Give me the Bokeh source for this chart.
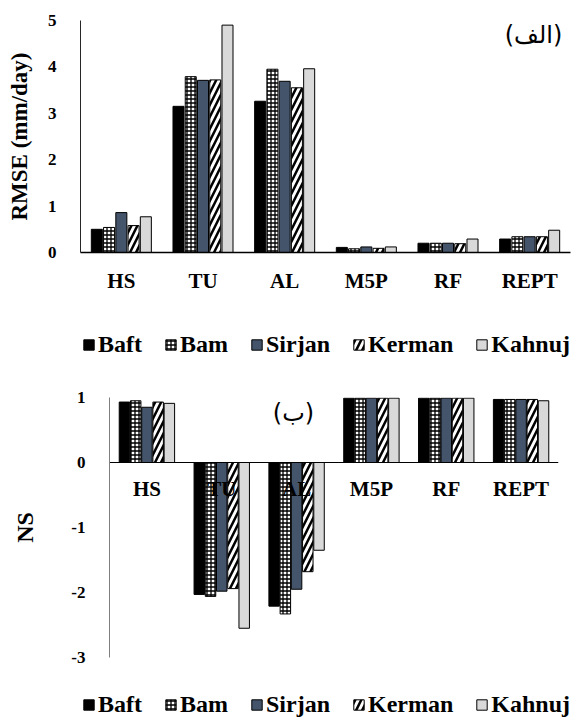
from bokeh.plotting import figure
from bokeh.models import ColumnDataSource, Range1d, Legend, LegendItem, Label, FixedTicker
from bokeh.transform import dodge
from bokeh.embed import file_html
from bokeh.resources import INLINE

models = ["HS", "TU", "AL", "M5P", "RF", "REPT"]
stations = ["Baft", "Bam", "Sirjan", "Kerman", "Kahnuj"]

rmse_baft = [0.50, 3.15, 3.26, 0.11, 0.20, 0.29]
rmse_bam = [0.54, 3.79, 3.95, 0.08, 0.20, 0.34]
rmse_sirjan = [0.86, 3.71, 3.69, 0.12, 0.20, 0.34]
rmse_kerman = [0.58, 3.72, 3.55, 0.09, 0.19, 0.34]
rmse_kahnuj = [0.77, 4.90, 3.96, 0.12, 0.29, 0.48]

ns_baft = [0.93, -2.03, -2.21, 0.99, 0.99, 0.97]
ns_bam = [0.95, -2.06, -2.33, 0.99, 0.99, 0.97]
ns_sirjan = [0.85, -1.98, -1.95, 0.99, 0.99, 0.97]
ns_kerman = [0.93, -1.94, -1.68, 0.99, 0.99, 0.97]
ns_kahnuj = [0.91, -2.55, -1.35, 0.99, 0.99, 0.95]

rmse_ticks = [0, 1, 2, 3, 4, 5]
ns_ticks = [-3, -2, -1, 0, 1]

SERIF = "Liberation Serif"
offsets = [-0.3, -0.15, 0.0, 0.15, 0.3]
styles = {
    "Baft": dict(fill_color="black"),
    "Bam": dict(fill_color="white", hatch_pattern="+", hatch_color="black", hatch_scale=4, hatch_weight=1.3),
    "Sirjan": dict(fill_color="#44546A"),
    "Kerman": dict(fill_color="white", hatch_pattern="/", hatch_color="black", hatch_scale=12, hatch_weight=2.5),
    "Kahnuj": dict(fill_color="#D9D9D9"),
}


def make_fig(data, y0, y1, ticks, ylabel, height, bl, br, bt, bb, bar_w,
             lab_text, lab_xy, zero_axis, label_standoff,
             title_standoff, title_size, yline_color):
    src = ColumnDataSource(dict(model=models, **data))
    p = figure(x_range=models, y_range=Range1d(y0, y1), width=576, height=height,
               output_backend="svg", toolbar_location=None,
               min_border_left=bl, min_border_right=br, min_border_top=bt, min_border_bottom=bb)
    p.xgrid.visible = False
    p.ygrid.visible = False
    p.outline_line_color = None
    for st, off in zip(stations, offsets):
        p.vbar(x=dodge("model", off, range=p.x_range), top=st, bottom=0, width=bar_w,
               source=src, line_color="black", line_width=1, **styles[st])
    xa = p.xaxis[0]
    xa.major_tick_line_color = None
    xa.minor_tick_line_color = None
    xa.major_label_text_font = SERIF
    xa.major_label_text_font_style = "bold"
    xa.major_label_text_font_size = "21px"
    xa.major_label_text_color = "black"
    xa.major_label_standoff = label_standoff
    xa.axis_line_color = "black"
    xa.axis_line_width = 1.5 if not zero_axis else 1
    if zero_axis:
        xa.fixed_location = 0
    ya = p.yaxis[0]
    ya.ticker = FixedTicker(ticks=ticks)
    ya.major_label_overrides = {t: str(t) for t in ticks}
    ya.major_tick_line_color = None
    ya.minor_tick_line_color = None
    ya.major_label_text_font = SERIF
    ya.major_label_text_font_style = "bold"
    ya.major_label_text_font_size = "17px"
    ya.major_label_text_color = "black"
    ya.major_label_standoff = 18
    ya.axis_line_color = yline_color
    ya.axis_label = ylabel
    ya.axis_label_text_font = SERIF
    ya.axis_label_text_font_style = "bold"
    ya.axis_label_text_font_size = title_size
    ya.axis_label_text_color = "black"
    ya.axis_label_standoff = title_standoff
    p.add_layout(Label(x=lab_xy[0], y=lab_xy[1], x_units="screen", y_units="screen",
                       text=lab_text, text_font="DejaVu Sans", text_font_size="24px",
                       text_align="center", text_baseline="middle", text_color="black"))
    return p


def legend_fig(height, vy):
    f = figure(width=576, height=height, output_backend="svg", toolbar_location=None,
               x_axis_location=None, y_axis_location=None,
               x_range=Range1d(0, 1), y_range=Range1d(0, 1),
               min_border_left=82, min_border_right=0, min_border_top=0, min_border_bottom=0)
    f.outline_line_color = None
    f.grid.visible = False
    hidden = ColumnDataSource(dict(x=[-10], y=[0]))
    rs = [f.vbar(x="x", top="y", bottom=0, width=0.5, source=hidden, line_color="black",
                 line_width=1, **styles[st])
          for st in stations]
    legend = Legend(items=[LegendItem(label=st, renderers=[r]) for st, r in zip(stations, rs)],
                    orientation="horizontal", location=(0, vy), padding=0, margin=0,
                    spacing=22, glyph_width=13, glyph_height=13, label_standoff=3,
                    label_text_font=SERIF, label_text_font_style="bold",
                    label_text_font_size="24px", label_text_color="black",
                    border_line_color=None, background_fill_alpha=0)
    f.add_layout(legend, "center")
    return f


p1 = make_fig(dict(Baft=rmse_baft, Bam=rmse_bam, Sirjan=rmse_sirjan, Kerman=rmse_kerman, Kahnuj=rmse_kahnuj),
              0, 5, rmse_ticks, "RMSE (mm/day)", 320, 80, 6, 20, 68, 0.135,
              "(الف)", (453, 218), False, 10, 13, "23px", "#262626")
leg1 = legend_fig(48, 10)

p2 = make_fig(dict(Baft=ns_baft, Bam=ns_bam, Sirjan=ns_sirjan, Kerman=ns_kerman, Kahnuj=ns_kahnuj),
              -3, 1, ns_ticks, "NS", 312, 109, 18, 29, 23, 0.14,
              "(ب)", (184, 245), True, 8, 30, "24px", "#808080")
leg2 = legend_fig(38, 0)

open("out.html", "w").write(file_html([p1, leg1, p2, leg2], INLINE))
